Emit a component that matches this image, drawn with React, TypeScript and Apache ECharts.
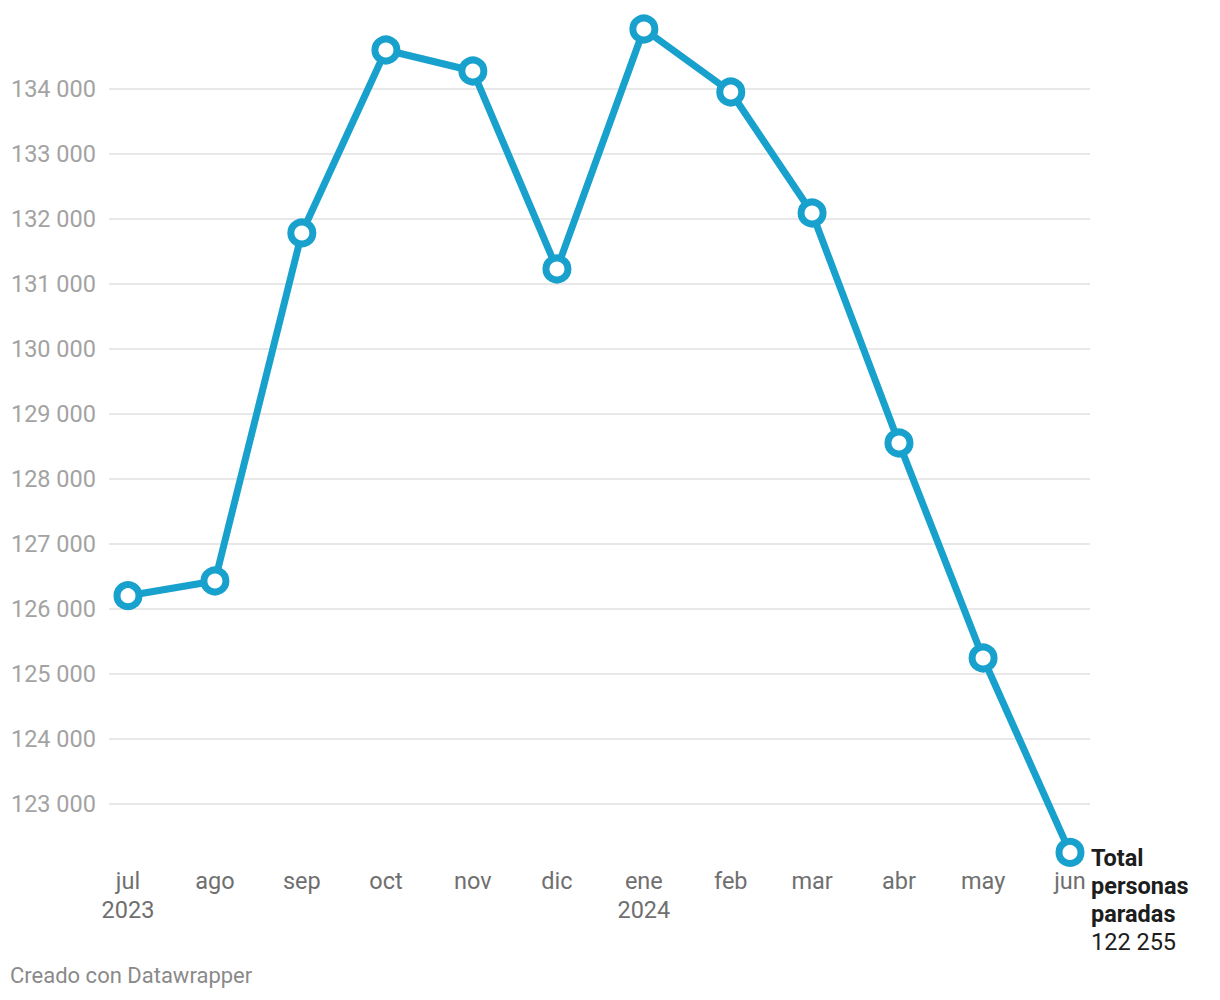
import React, { useEffect, useRef } from 'react';
import * as echarts from 'echarts';

const monthDates = ['2023-07', '2023-08', '2023-09', '2023-10', '2023-11', '2023-12', '2024-01', '2024-02', '2024-03', '2024-04', '2024-05', '2024-06'];
const monthNames = ['ene', 'feb', 'mar', 'abr', 'may', 'jun', 'jul', 'ago', 'sep', 'oct', 'nov', 'dic'];
const parados = [126205, 126431, 131785, 134600, 134277, 131231, 134923, 133954, 132092, 128554, 125246, 122255];
const yMin = 122000;
const yMax = 135000;
const yStep = 1000;
const seriesName = 'Total personas paradas';
const creditText = 'Creado con Datawrapper';

const fmt = (v: number) => String(Math.round(v)).replace(/\B(?=(\d{3})+(?!\d))/g, ' ');
const toTime = (s: string) => {
  const [y, m] = s.split('-').map(Number);
  return new Date(y, m - 1, 1).getTime();
};

export default function App() {
  const ref = useRef<HTMLDivElement>(null);
  useEffect(() => {
    document.body.style.margin = '0';
    const chart = echarts.init(ref.current!, null, { renderer: 'svg' });
    const font = 'Roboto';
    const fs = 23.5;
    const times = monthDates.map(toTime);
    const firstTime = times[0];
    const lastTime = times[times.length - 1];
    const day = 24 * 3600 * 1000;
    chart.setOption({
      animation: false,
      backgroundColor: '#ffffff',
      grid: [
        { left: 109, right: 130, top: 24, height: 845 },
        { left: 128, right: 150, top: 24, height: 845 },
      ],
      xAxis: [
        { type: 'value', gridIndex: 0, min: 0, max: 1, show: false },
        {
          type: 'time',
          gridIndex: 1,
          min: firstTime,
          max: lastTime,
          minInterval: 28 * day,
          maxInterval: 31 * day,
          axisLine: { show: false },
          axisTick: { show: false },
          splitLine: { show: false },
          axisLabel: {
            showMinLabel: true,
            showMaxLabel: true,
            hideOverlap: false,
            margin: -3,
            fontFamily: font,
            fontSize: fs,
            lineHeight: 29,
            color: '#6f6f6f',
            formatter: (v: number) => {
              const d = new Date(v);
              const name = monthNames[d.getMonth()];
              return v === firstTime || d.getMonth() === 0 ? name + '\n' + d.getFullYear() : name;
            },
          },
        },
      ],
      yAxis: [
        {
          type: 'value',
          gridIndex: 0,
          min: yMin,
          max: yMax,
          interval: yStep,
          axisLine: { show: false },
          axisTick: { show: false },
          splitLine: { show: true, showMinLine: false, showMaxLine: false, lineStyle: { color: '#e1e1e1', width: 1.5 } },
          axisLabel: {
            showMinLabel: false,
            showMaxLabel: false,
            margin: 13,
            fontFamily: font,
            fontSize: fs,
            color: '#a3a3a3',
            formatter: (v: number) => fmt(v),
          },
        },
        { type: 'value', gridIndex: 1, min: yMin, max: yMax, interval: yStep, show: false, splitLine: { show: false } },
      ],
      series: [
        {
          type: 'line',
          name: seriesName,
          xAxisIndex: 1,
          yAxisIndex: 1,
          data: times.map((t, i) => [t, parados[i]]),
          symbol: 'circle',
          symbolSize: 22,
          showAllSymbol: true,
          lineStyle: { color: '#18a1cd', width: 7 },
          itemStyle: { color: '#ffffff', borderColor: '#18a1cd', borderWidth: 7 },
          endLabel: {
            show: true,
            distance: 21,
            offset: [0, -8],
            align: 'left',
            verticalAlign: 'top',
            formatter: (p: any) => '{b|Total}\n{b|personas}\n{b|paradas}\n{n|' + fmt(p.value[1]) + '}',
            rich: {
              b: { fontFamily: font, fontSize: fs, fontWeight: 'bold', lineHeight: 28, color: '#1d1d1d' },
              n: { fontFamily: font, fontSize: fs, lineHeight: 28, color: '#1d1d1d' },
            },
          },
        },
      ],
      graphic: [
        {
          type: 'text',
          left: 10,
          top: 964,
          style: { text: creditText, fontFamily: font, fontSize: 22, fill: '#8a8a8a' },
        },
      ],
    });
    return () => chart.dispose();
  }, []);
  return <div ref={ref} style={{ width: 1220, height: 1000 }} />;
}
